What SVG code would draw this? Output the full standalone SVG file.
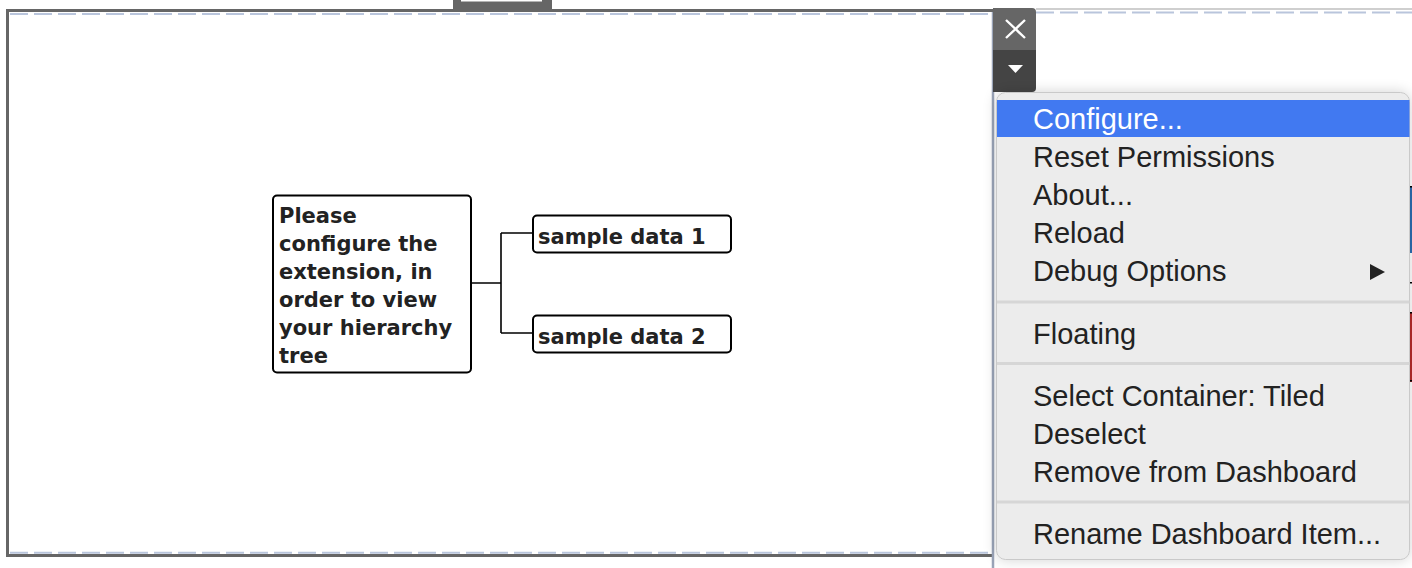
<svg xmlns="http://www.w3.org/2000/svg" width="1412" height="568" viewBox="0 0 1412 568">
<defs>
<style>
.node{fill:#fff;stroke:#000;stroke-width:2}
.nt{font-family:"DejaVu Sans",Verdana,sans-serif;font-weight:bold;font-size:21px;fill:#222}
.conn{fill:none;stroke:#000;stroke-width:1.6}
.mi{font-family:"Liberation Sans",Arial,sans-serif;font-size:29px;fill:#222}
.sep{fill:#d6d6d6}
.dash{stroke:#b9c5dc;stroke-width:2;stroke-dasharray:18 6;fill:none}
</style>
<filter id="sh" x="-10%" y="-10%" width="120%" height="120%">
<feGaussianBlur in="SourceAlpha" stdDeviation="7"/>
<feComponentTransfer><feFuncA type="linear" slope="0.18"/></feComponentTransfer>
<feMerge><feMergeNode/><feMergeNode in="SourceGraphic"/></feMerge>
</filter>
</defs>
<rect width="1412" height="568" fill="#fff"/>
<g id="frame">
<rect x="453" y="0" width="99" height="9" fill="#666"/>
<rect x="461" y="0" width="81" height="1.5" fill="#fff"/>
<line x1="1036" y1="9" x2="1412" y2="9" stroke="#cfcfcf" stroke-width="2"/>
<path d="M7.5 557 V10.5 H993" fill="none" stroke="#666" stroke-width="3"/>
<path d="M7.5 555.5 H993" fill="none" stroke="#666" stroke-width="3"/>
<line class="dash" x1="10" y1="14" x2="993" y2="14"/>
<line class="dash" x1="1036" y1="12.5" x2="1412" y2="12.5"/>
<line class="dash" x1="10" y1="552.7" x2="993" y2="552.7"/>
<line x1="993" y1="12" x2="993" y2="568" stroke="#9aa4b8" stroke-width="2.5"/>
<rect x="1410" y="187" width="2" height="66" fill="#2a6db0"/>
<rect x="1410" y="313" width="2" height="69" fill="#b52a2a"/>
<rect x="1410" y="186" width="2" height="1.5" fill="#000"/>
<rect x="1410" y="282" width="2" height="1.5" fill="#000"/>
<rect x="1410" y="312" width="2" height="1.5" fill="#000"/>
<rect x="1410" y="380" width="2" height="1.5" fill="#000"/>
</g>
<g id="controls">
<path d="M993 8 H1032 A4 4 0 0 1 1036 12 V50 H993 Z" fill="#666"/>
<path d="M993 50 H1036 V88 A4 4 0 0 1 1032 92 H993 Z" fill="#444"/>
<path d="M1006 20 L1025 38 M1025 20 L1006 38" stroke="#fff" stroke-width="2.4" fill="none"/>
<polygon points="1008,65 1023,65 1015.5,73" fill="#fff"/>
</g>
<g id="connectors">
<path class="conn" d="M471 283 H501 M501 233 V333 M501 233 H533 M501 333 H533"/>
</g>
<g id="root">
<rect class="node" x="273" y="195.5" width="198" height="177" rx="4"/>
<text class="nt" x="279" y="222.5">Please</text>
<text class="nt" x="279" y="250.5">configure the</text>
<text class="nt" x="279" y="278.5">extension, in</text>
<text class="nt" x="279" y="306.5">order to view</text>
<text class="nt" x="279" y="334.5">your hierarchy</text>
<text class="nt" x="279" y="362.5">tree</text>
</g>
<g id="child1">
<rect class="node" x="533" y="215.5" width="198" height="37" rx="4"/>
<text class="nt" x="538" y="244.3">sample data 1</text>
</g>
<g id="child2">
<rect class="node" x="533" y="315.5" width="198" height="37" rx="4"/>
<text class="nt" x="538" y="344.3">sample data 2</text>
</g>
<g id="menu">
<rect x="996.5" y="92.5" width="413" height="467" rx="9" fill="#ececec" stroke="#c9c9c9" stroke-width="1" filter="url(#sh)"/>
<rect x="997" y="100" width="412.5" height="37" fill="#4179f1"/>
<text class="mi" x="1033" y="129.3" fill="#fff" style="fill:#fff">Configure...</text>
<text class="mi" x="1033" y="167.3">Reset Permissions</text>
<text class="mi" x="1033" y="205.3">About...</text>
<text class="mi" x="1033" y="243.3">Reload</text>
<text class="mi" x="1033" y="281.3">Debug Options</text>
<polygon points="1370,264 1385,272 1370,280" fill="#222"/>
<rect class="sep" x="997" y="300.5" width="412.5" height="3"/>
<text class="mi" x="1033" y="344">Floating</text>
<rect class="sep" x="997" y="362" width="412.5" height="3"/>
<text class="mi" x="1033" y="406">Select Container: Tiled</text>
<text class="mi" x="1033" y="444">Deselect</text>
<text class="mi" x="1033" y="482">Remove from Dashboard</text>
<rect class="sep" x="997" y="500.5" width="412.5" height="3"/>
<text class="mi" x="1033" y="544">Rename Dashboard Item...</text>
</g>
</svg>
